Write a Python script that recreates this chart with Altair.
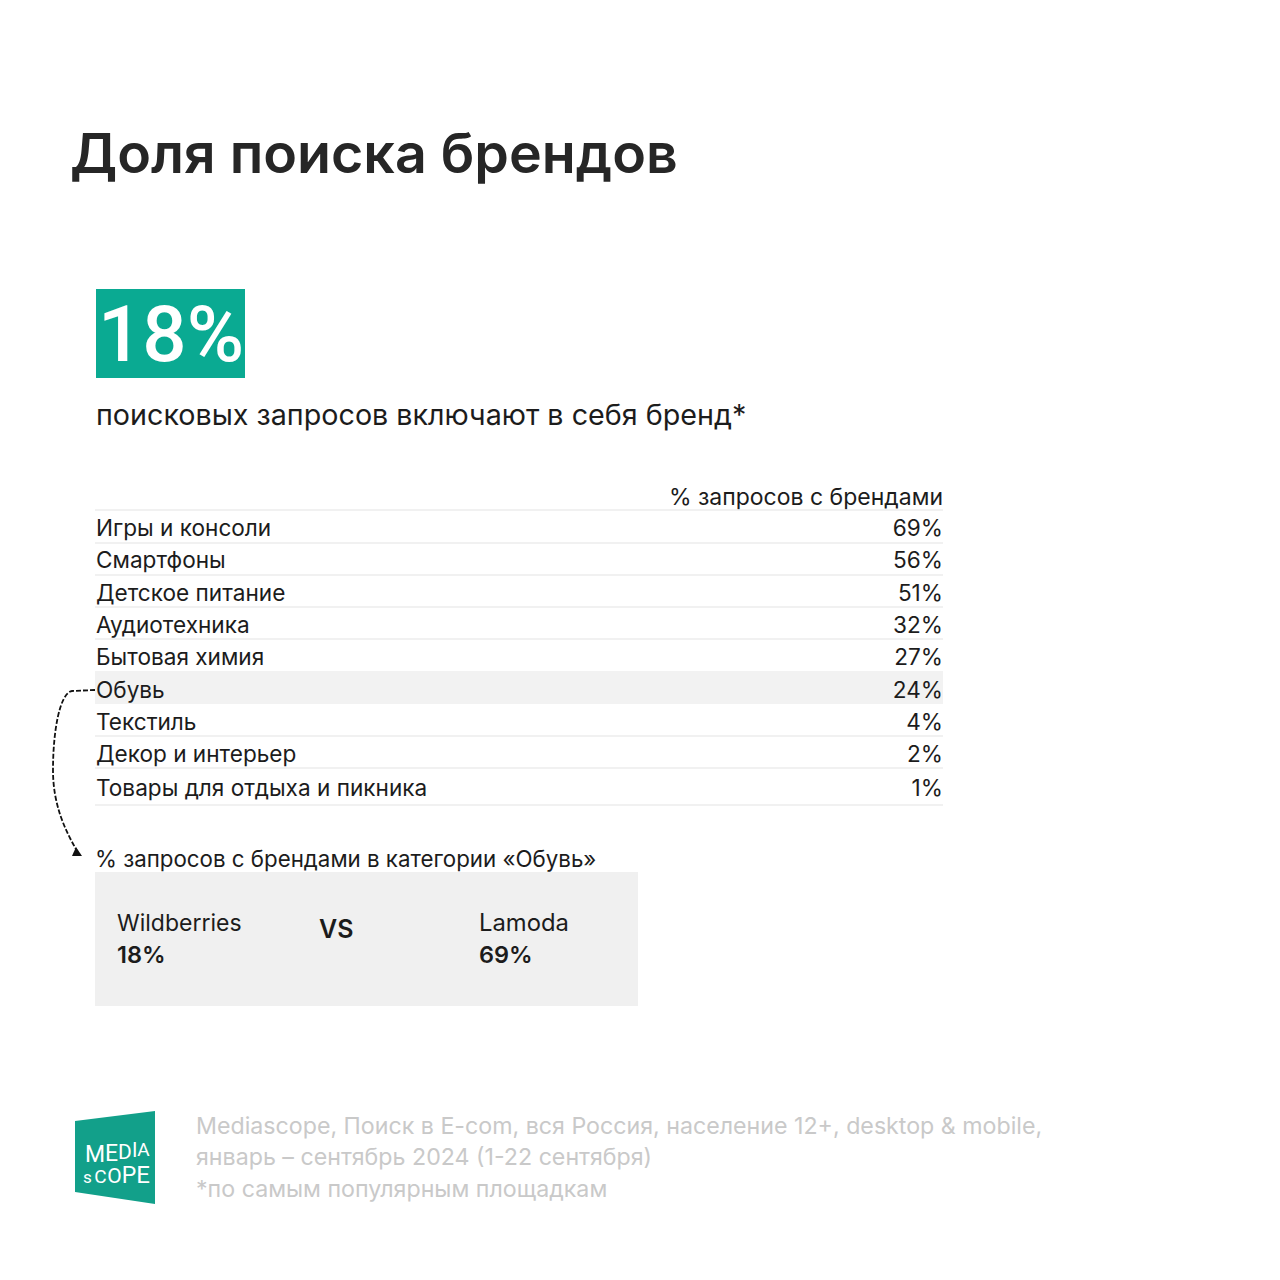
import altair as alt
import pandas as pd

FONT = "Inter"
INK = "#1c1c1c"
GREEN = "#0aaa92"
LOGO_GREEN = "#12a08a"
GREY = "#c9c9c9"

categories = ["Игры и консоли", "Смартфоны", "Детское питание", "Аудиотехника", "Бытовая химия",
              "Обувь", "Текстиль", "Декор и интерьер", "Товары для отдыха и пикника"]
shares = [69, 56, 51, 32, 27, 24, 4, 2, 1]
platforms = ["Wildberries", "Lamoda"]
platform_shares = [18, 69]
footer_lines = ["Mediascope, Поиск в E-com, вся Россия, население 12+, desktop & mobile,",
                "январь – сентябрь 2024 (1-22 сентября)",
                "*по самым популярным площадкам"]

table = pd.DataFrame({"category": categories, "share": shares})
table["label"] = table["share"].astype(str) + "%"
last_row = categories[-1]


# all positions below are given as on the 1280 px picture, the page margin is 8 px
def px(v):
    return alt.value(v - 8)


def label(text, x, y, size, color=INK, weight=400, align="left", font=FONT):
    return alt.Chart(pd.DataFrame({"t": [text]})).mark_text(
        font=font, fontSize=size, fontWeight=weight, color=color, align=align, baseline="alphabetic"
    ).encode(x=px(x), y=px(y), text="t:N")


def box(x, x2, y, y2, color):
    return alt.Chart(pd.DataFrame({"a": [0]})).mark_rect(color=color).encode(
        x=px(x), x2=px(x2), y=px(y), y2=px(y2))


def hline(y):
    return alt.Chart(pd.DataFrame({"a": [0]})).mark_rule(color="#ececec", strokeWidth=1.5).encode(
        x=px(95), x2=px(943), y=px(y))


def shape(path, x, y, **style):
    # size 4 makes one unit of the path one pixel
    return alt.Chart(pd.DataFrame({"a": [0]})).mark_point(shape=path, size=4, opacity=1, **style).encode(
        x=px(x), y=px(y))


row_y = alt.Y("category:N", scale=alt.Scale(type="point", padding=0, domain=categories,
                                            range=[529 - 8, 787.4 - 8]), axis=None)


def row_text(field, x, align, test, dy=0):
    return alt.Chart(table).transform_filter(test).mark_text(
        font=FONT, fontSize=22.6, color=INK, align=align, baseline="middle", dy=dy
    ).encode(x=px(x), y=row_y, text=f"{field}:N")


is_last = alt.datum.category == last_row
not_last = alt.datum.category != last_row
rows = [
    row_text("category", 96, "left", not_last),
    row_text("category", 96, "left", is_last, dy=2),
    row_text("label", 943, "right", not_last),
    row_text("label", 943, "right", is_last, dy=2),
]

rules = [hline(y) for y in [510, 543, 575, 607, 639, 736, 768, 805]]

arrow_line = shape("M0,0 L-23,1 C-35,3 -42,40 -42,80 C-42,115 -30,140 -18,161", 95, 690,
                   filled=False, stroke="#111111", strokeWidth=1.8, strokeDash=[5, 2])
arrow_head = shape("M0,0 L-10,0 L-6,-9 Z", 82, 856, filled=True, color="#111111")

logo = shape("M0,0 L80,-10 L80,83 L0,71 Z", 75, 1121, filled=True, color=LOGO_GREEN)


def logo_letter(ch, x, y, size):
    return label(ch, x, y, size, color="white", align="center", font="Roboto")


logo_letters = [logo_letter(*a) for a in [
    ("M", 95, 1162, 23), ("E", 111.5, 1161, 23), ("D", 125, 1159, 21), ("I", 134.7, 1157, 20), ("A", 143.5, 1155.5, 19),
    ("s", 87.5, 1183, 17), ("C", 100.5, 1183, 19), ("O", 114.5, 1183, 21), ("P", 129, 1183, 23), ("E", 143, 1183, 24),
]]

chart = alt.layer(
    label("Доля поиска брендов", 70, 173, 55.5, color="#262626", weight=600),
    box(96, 245, 289, 378, GREEN),
    label("18%", 98, 361, 78, color="white", weight=500, font="Roboto"),
    label("поисковых запросов включают в себя бренд*", 96, 425, 28.7),
    label("% запросов с брендами", 943, 505, 23, align="right"),
    box(95, 943, 671, 704, "#f2f2f2"),
    *rules,
    *rows,
    arrow_line,
    arrow_head,
    label("% запросов с брендами в категории «Обувь»", 95, 867, 22.3),
    box(95, 638, 872, 1006, "#f0f0f0"),
    label(platforms[0], 117, 931, 23),
    label(f"{platform_shares[0]}%", 117, 963, 23.5, weight=600),
    label("VS", 319, 938, 25, weight=600),
    label(platforms[1], 479, 931, 23.8),
    label(f"{platform_shares[1]}%", 479, 963, 23.5, weight=600),
    logo,
    *logo_letters,
    label(footer_lines[0], 196, 1134, 23.2, color=GREY),
    label(footer_lines[1], 196, 1165, 23.2, color=GREY),
    label(footer_lines[2], 196, 1197, 23.2, color=GREY),
).properties(
    width=1264, height=1264, padding=0, autosize=alt.AutoSizeParams(type="none"),
).configure_view(stroke=None)

chart.save("out.html", embed_options={"renderer": "svg", "actions": False})
